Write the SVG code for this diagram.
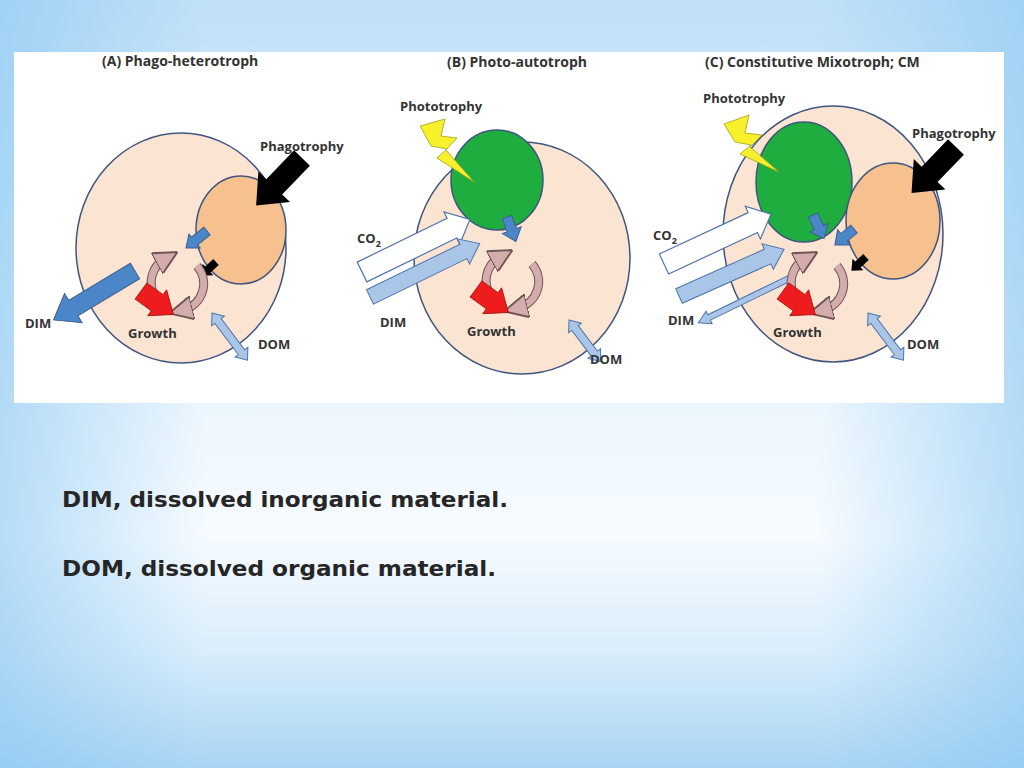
<svg xmlns="http://www.w3.org/2000/svg" width="1024" height="768" viewBox="0 0 1024 768">
<defs>
<linearGradient id="bgv" x1="0" y1="0" x2="0" y2="1">
<stop offset="0" stop-color="#bfe0f8"/><stop offset="0.55" stop-color="#eef7fe"/><stop offset="0.7" stop-color="#f6fbff"/><stop offset="0.85" stop-color="#d9edfb"/><stop offset="1" stop-color="#a9d5f4"/>
</linearGradient>
<linearGradient id="bgh" x1="0" y1="0" x2="1" y2="0">
<stop offset="0" stop-color="#8cc8f2" stop-opacity="0.6"/><stop offset="0.2" stop-color="#8cc8f2" stop-opacity="0"/><stop offset="0.8" stop-color="#8cc8f2" stop-opacity="0"/><stop offset="1" stop-color="#8cc8f2" stop-opacity="0.6"/>
</linearGradient>
<marker id="ah" viewBox="0 0 10 10" refX="4" refY="5" markerWidth="3.4" markerHeight="3.4" orient="auto" markerUnits="strokeWidth">
<path d="M0,0 L10,5 L0,10 Z" fill="#d4acac" stroke="#6e5656" stroke-width="0.8"/>
</marker>
<style>
.cell{fill:#fce4d2;stroke:#3f5580;stroke-width:1.5}
.orange{fill:#f6c08f;stroke:#3f5580;stroke-width:1.5}
.green{fill:#1fad3f;stroke:#3f5580;stroke-width:1.5}
.blk{fill:#000}
.blue{fill:#4a86c8;stroke:#3f5f8f;stroke-width:1}
.lblue{fill:#a9c6e8;stroke:#4f74a8;stroke-width:1}
.white{fill:#fff;stroke:#4f74a8;stroke-width:1.2}
.red{fill:#ee1c1c;stroke:#a01010;stroke-width:0.8}
.bolt{fill:#f7f02a;stroke:#a0a020;stroke-width:0.8}
.cyc{fill:none;stroke:#6e5656;stroke-width:9}
.cyc2{fill:none;stroke:#d4acac;stroke-width:7}
.t{font-family:"Open Sans","Liberation Sans",sans-serif;font-weight:bold;font-size:13px;fill:#333}
.h{font-family:"Open Sans","Liberation Sans",sans-serif;font-weight:bold;font-size:14px;fill:#333}
.cap{font-family:"DejaVu Sans","Liberation Sans",sans-serif;font-weight:bold;font-size:22px;font-stretch:condensed;fill:#262626}
</style>
</defs>
<rect width="1024" height="768" fill="url(#bgv)"/>
<rect width="1024" height="768" fill="url(#bgh)"/>
<rect x="14" y="52" width="990" height="351" fill="#fff"/>

<g id="panelA">
<text class="h" x="102" y="66">(A) Phago-heterotroph</text>
<ellipse class="cell" cx="181" cy="248" rx="105" ry="115"/>
<ellipse class="orange" cx="241" cy="230" rx="45" ry="54"/>
<polygon class="blk" transform="translate(302,158) rotate(134)" points="0,-11 40,-11 40,-22 66,0 40,22 40,11 0,11"/>
<text class="t" x="260" y="151">Phagotrophy</text>
<polygon class="blue" transform="translate(135,271) rotate(149)" points="0,-9 72,-9 72,-17 95,0 72,17 72,9 0,9"/>
<text class="t" x="25" y="328">DIM</text>
<polygon class="blue" transform="translate(207,231) rotate(141)" points="0,-5 16,-5 16,-9 27,0 16,9 16,5 0,5"/>
<polygon class="blk" transform="translate(216,262) rotate(137)" points="0,-4 11,-4 11,-8 20,0 11,8 11,4 0,4"/>
<g id="cycA">
<path class="cyc" d="M156,298 A27,27 0 0 1 165,259"/><path class="cyc2" d="M156,298 A27,27 0 0 1 165,259" marker-end="url(#ah)"/>
<path class="cyc" d="M197,266 A27,27 0 0 1 183,310"/><path class="cyc2" d="M197,266 A27,27 0 0 1 183,310" marker-end="url(#ah)"/>
</g>
<polygon class="red" transform="translate(141,291) rotate(36)" points="0,-10 20,-10 20,-16 40,0 20,16 20,10 0,10"/>
<text class="t" x="128" y="338">Growth</text>
<polygon class="lblue" transform="translate(212,313) rotate(53)" points="0,0 10,-8 10,-4 49,-4 49,-8 59,0 49,8 49,4 10,4 10,8"/>
<text class="t" x="258" y="349">DOM</text>
</g>

<g id="panelB">
<text class="h" x="447" y="67">(B) Photo-autotroph</text>
<ellipse class="cell" cx="522" cy="258" rx="108" ry="116"/>
<ellipse class="green" cx="497" cy="180" rx="46" ry="50"/>
<polygon class="bolt" points="420,126 445,119 441,136 457,138 446,150 474,182 437,158 447,149 431,146"/>
<text class="t" x="400" y="111">Phototrophy</text>
<polygon class="blue" transform="translate(507,217) rotate(70)" points="0,-5 14,-5 14,-10 26,0 14,10 14,5 0,5"/>
<polygon class="white" transform="translate(362,272) rotate(-26)" points="0,-11 100,-11 100,-18 120,0 100,18 100,11 0,11"/>
<text class="t" x="357" y="243">CO<tspan font-size="9" dy="4">2</tspan></text>
<polygon class="lblue" transform="translate(370,297) rotate(-26)" points="0,-8 104,-8 104,-14 122,0 104,14 104,8 0,8"/>
<text class="t" x="380" y="327">DIM</text>
<g id="cycB">
<path class="cyc" d="M491,296 A27,27 0 0 1 500,257"/><path class="cyc2" d="M491,296 A27,27 0 0 1 500,257" marker-end="url(#ah)"/>
<path class="cyc" d="M532,264 A27,27 0 0 1 518,308"/><path class="cyc2" d="M532,264 A27,27 0 0 1 518,308" marker-end="url(#ah)"/>
</g>
<polygon class="red" transform="translate(476,289) rotate(36)" points="0,-10 20,-10 20,-16 40,0 20,16 20,10 0,10"/>
<text class="t" x="467" y="336">Growth</text>
<polygon class="lblue" transform="translate(569,320) rotate(53)" points="0,0 10,-8 10,-4 42,-4 42,-8 52,0 42,8 42,4 10,4 10,8"/>
<text class="t" x="590" y="364">DOM</text>
</g>

<g id="panelC">
<text class="h" x="705" y="67">(C) Constitutive Mixotroph; CM</text>
<ellipse class="cell" cx="833" cy="234" rx="110" ry="128"/>
<ellipse class="green" cx="804" cy="182" rx="48" ry="60"/>
<ellipse class="orange" cx="893" cy="221" rx="47" ry="58"/>
<polygon class="bolt" points="724,124 749,115 745,133 762,135 750,147 779,172 740,154 751,145 735,142"/>
<text class="t" x="703" y="103">Phototrophy</text>
<polygon class="blk" transform="translate(956,147) rotate(134)" points="0,-11 38,-11 38,-22 64,0 38,22 38,11 0,11"/>
<text class="t" x="912" y="138">Phagotrophy</text>
<polygon class="blue" transform="translate(813,215) rotate(65)" points="0,-5 14,-5 14,-10 26,0 14,10 14,5 0,5"/>
<polygon class="blue" transform="translate(854,229) rotate(140)" points="0,-5 13,-5 13,-10 25,0 13,10 13,5 0,5"/>
<polygon class="blk" transform="translate(866,257) rotate(137)" points="0,-4 11,-4 11,-8 20,0 11,8 11,4 0,4"/>
<polygon class="white" transform="translate(664,264) rotate(-25)" points="0,-11 98,-11 98,-18 118,0 98,18 98,11 0,11"/>
<text class="t" x="653" y="240">CO<tspan font-size="9" dy="4">2</tspan></text>
<polygon class="lblue" transform="translate(679,296) rotate(-24)" points="0,-8 97,-8 97,-14 115,0 97,14 97,8 0,8"/>
<polygon class="lblue" transform="translate(790,278) rotate(154)" points="0,-3 90,-3 90,-7 102,0 90,7 90,3 0,3"/>
<text class="t" x="668" y="325">DIM</text>
<g id="cycC">
<path class="cyc" d="M796,298 A27,27 0 0 1 805,259"/><path class="cyc2" d="M796,298 A27,27 0 0 1 805,259" marker-end="url(#ah)"/>
<path class="cyc" d="M837,266 A27,27 0 0 1 823,310"/><path class="cyc2" d="M837,266 A27,27 0 0 1 823,310" marker-end="url(#ah)"/>
</g>
<polygon class="red" transform="translate(783,291) rotate(36)" points="0,-10 20,-10 20,-16 40,0 20,16 20,10 0,10"/>
<text class="t" x="773" y="337">Growth</text>
<polygon class="lblue" transform="translate(868,313) rotate(53)" points="0,0 10,-8 10,-4 49,-4 49,-8 59,0 49,8 49,4 10,4 10,8"/>
<text class="t" x="907" y="349">DOM</text>
</g>

<g id="caption">
<text class="cap" x="62" y="507" textLength="446" lengthAdjust="spacingAndGlyphs">DIM, dissolved inorganic material.</text>
<text class="cap" x="62" y="576" textLength="434" lengthAdjust="spacingAndGlyphs">DOM, dissolved organic material.</text>
</g>
</svg>
